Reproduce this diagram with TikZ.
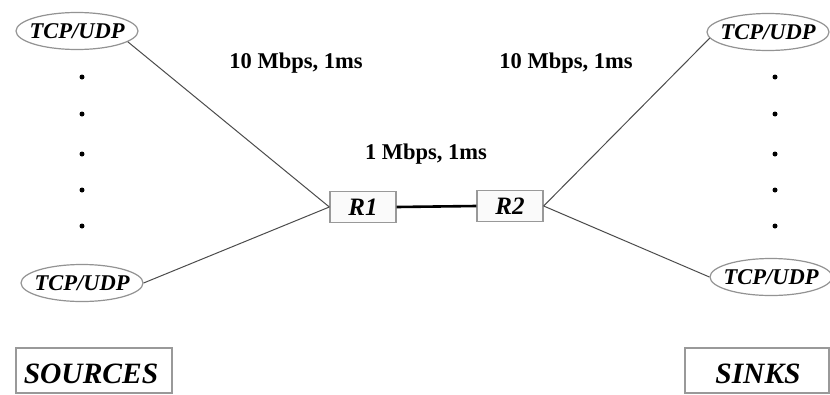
\documentclass[tikz,border=0pt]{standalone}
\usepackage{fontspec}
\setmainfont{Liberation Serif}
\usetikzlibrary{shapes.geometric}
\begin{document}
\begin{tikzpicture}[x=1pt,y=-1pt,
  host/.style={ellipse,draw=gray!85,line width=1.2pt,fill=white,minimum width=122pt,minimum height=37pt,inner xsep=-5pt,inner ysep=0pt,font=\fontsize{22.5}{25}\selectfont\bfseries\itshape},
  router/.style={rectangle,draw=gray!80,line width=1.3pt,fill=gray!4,minimum width=66pt,minimum height=31pt,inner sep=0pt,font=\fontsize{25}{28}\selectfont\bfseries\itshape},
  lbl/.style={font=\fontsize{22.5}{25}\selectfont\bfseries,inner sep=0pt},
  dotn/.style={circle,fill=black,inner sep=0pt,minimum size=5pt},
  link/.style={draw=black!70,line width=1pt},
  bottleneck/.style={draw=black,line width=2.6pt},
  tag/.style={rectangle,draw=gray!80,line width=1.1pt,inner sep=0pt,font=\fontsize{29.5}{32}\selectfont\bfseries\itshape}]
\useasboundingbox (0,0) rectangle (830,394);
\fill[white] (0,0) rectangle (830,394);
% hosts
\node[host] (s1) at (77,31) {TCP/UDP};
\node[host] (s2) at (82,283) {TCP/UDP};
\node[host] (d1) at (768,32) {TCP/UDP};
\node[host] (d2) at (771,277) {TCP/UDP};
% dots
\foreach \i/\y in {1/77,2/114,3/154,4/190,5/226}{
  \node[dotn] (ls\i) at (82,\y) {};
  \node[dotn] (rd\i) at (775,\y) {};
}
% routers
\node[router] (r1) at (363,207) {R1};
\node[router] (r2) at (510,206) {R2};
% links
\draw[link] (s1.-12) -- (r1.west);
\draw[link] (s2.east) -- (r1.west);
\draw[link] (d1.186) -- (r2.east);
\draw[link] (d2.180) -- (r2.east);
\draw[bottleneck] (r1.east) -- (r2.west);
% labels
\node[lbl] (l1) at (296,63) {10 Mbps, 1ms};
\node[lbl] (l2) at (566,63) {10 Mbps, 1ms};
\node[lbl] (l3) at (426,154) {1 Mbps, 1ms};
% sources / sinks
\draw[draw=gray!80,line width=1.1pt] (16,348) rectangle (172,393);
\node[tag,draw=none] (src) at (91,374) {SOURCES};
\draw[draw=gray!80,line width=1.1pt] (685,348) rectangle (829,393);
\node[tag,draw=none] (snk) at (758,374) {SINKS};
\end{tikzpicture}
\end{document}
